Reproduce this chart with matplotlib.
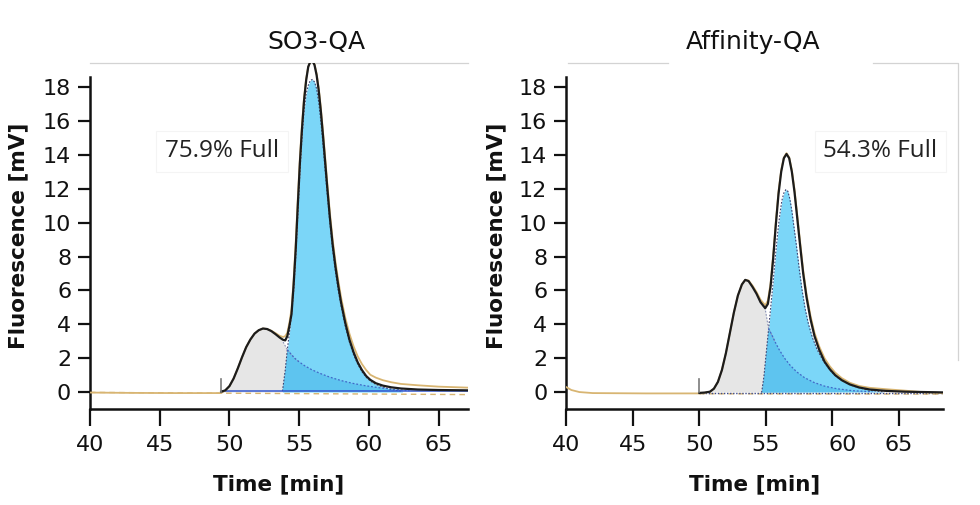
import numpy as np
import matplotlib
matplotlib.use('Agg')
import matplotlib.pyplot as plt
from matplotlib.transforms import ScaledTranslation

plt.rcParams['font.family'] = ['DejaVu Sans']

# ---- SO3-QA (left) ----
so3_black_t = [49.41, 49.7, 50.0, 50.3, 50.6, 50.9, 51.2, 51.5, 51.8, 52.1, 52.4, 52.7, 53.0, 53.3,
               53.6, 53.85, 54.0, 54.15, 54.3, 54.45, 54.6, 54.75, 54.9, 55.05, 55.2, 55.35, 55.5,
               55.65, 55.8, 55.95, 56.1, 56.25, 56.4, 56.55, 56.7, 56.85, 57.0, 57.2, 57.4, 57.6,
               57.8, 58.0, 58.3, 58.6, 58.9, 59.2, 59.5, 59.8, 60.1, 60.5, 61.0, 61.6, 62.3, 63.5,
               65.0, 67.1]
so3_black_v = [0.02, 0.1, 0.35, 0.8, 1.4, 2.05, 2.65, 3.1, 3.45, 3.65, 3.75, 3.72, 3.6, 3.42,
               3.22, 3.08, 3.05, 3.3, 3.9, 4.6, 6.3, 8.4, 11.0, 13.5, 15.5, 17.2, 18.4,
               19.2, 19.5, 19.55, 19.3, 18.7, 17.8, 16.6, 15.2, 13.7, 12.2, 10.3, 8.7, 7.4,
               6.3, 5.3, 4.1, 3.1, 2.35, 1.75, 1.3, 0.95, 0.72, 0.52, 0.38, 0.28, 0.21, 0.15,
               0.12, 0.1]
so3_gray_t = [49.41, 49.7, 50.0, 50.3, 50.6, 50.9, 51.2, 51.5, 51.8, 52.1, 52.4, 52.7, 53.0, 53.3,
              53.6, 53.85, 54.15, 54.4, 54.7, 55.0]
so3_gray_v = [0.02, 0.1, 0.35, 0.8, 1.4, 2.05, 2.65, 3.1, 3.45, 3.65, 3.75, 3.72, 3.6, 3.42,
              3.22, 2.95, 2.5, 2.25, 1.98, 1.78]
so3_blue_t = [53.8, 54.0, 54.15, 54.3, 54.45, 54.6, 54.75, 54.9, 55.05, 55.2, 55.35, 55.5, 55.65,
              55.8, 55.95, 56.1, 56.25, 56.4, 56.55, 56.7, 56.85, 57.0, 57.2, 57.4, 57.6, 57.8,
              58.0, 58.3, 58.6, 58.9, 59.2, 59.5, 59.8, 60.1, 60.5, 61.0, 61.6, 62.4]
so3_blue_v = [0.05, 1.3, 2.5, 3.5, 4.6, 5.9, 7.9, 10.4, 12.9, 15.0, 16.6, 17.6, 18.1,
              18.4, 18.45, 18.3, 17.9, 17.1, 16.0, 14.7, 13.2, 11.8, 10.0, 8.4, 7.1, 6.0,
              5.1, 3.9, 2.95, 2.2, 1.65, 1.2, 0.88, 0.65, 0.45, 0.3, 0.15, 0.05]
so3_tail_t = [54.15, 54.4, 54.7, 55.0, 55.4, 55.9, 56.5, 57.2, 58.0, 58.8, 59.7, 60.7, 61.8, 62.9]
so3_tail_v = [2.5, 2.25, 1.98, 1.78, 1.55, 1.32, 1.1, 0.88, 0.68, 0.52, 0.38, 0.26, 0.16, 0.08]
so3_raw_t = [40, 43, 46, 49.4, 49.7, 50.0, 50.3, 50.6, 50.9, 51.2, 51.5, 51.8, 52.1, 52.4, 52.7,
             53.0, 53.3, 53.6, 53.85, 54.0, 54.15, 54.3, 54.45, 54.6, 54.75, 54.9, 55.05, 55.2,
             55.35, 55.5, 55.65, 55.8, 55.95, 56.1, 56.25, 56.4, 56.55, 56.7, 56.85, 57.0, 57.2,
             57.4, 57.6, 57.8, 58.0, 58.3, 58.6, 58.9, 59.2, 59.5, 59.8, 60.1, 60.5, 61.0, 61.6,
             62.3, 63.5, 65.0, 67.1]
so3_raw_v = [-0.03, -0.05, -0.06, -0.06, 0.1, 0.35, 0.8, 1.4, 2.05, 2.65, 3.1, 3.45, 3.65, 3.75,
             3.72, 3.62, 3.48, 3.32, 3.25, 3.3, 3.5, 4.1, 4.9, 6.6, 8.8, 11.4, 13.8, 15.8,
             17.4, 18.5, 19.2, 19.5, 19.55, 19.35, 18.8, 17.95, 16.8, 15.45, 14.0, 12.5, 10.6,
             9.0, 7.7, 6.6, 5.6, 4.4, 3.45, 2.7, 2.1, 1.65, 1.3, 1.02, 0.85, 0.7, 0.58,
             0.48, 0.4, 0.32, 0.26]
so3_inject = 49.4
so3_label = '75.9% Full'

# ---- Affinity-QA (right) ----
aff_black_t = [50.01, 50.4, 50.8, 51.1, 51.4, 51.7, 52.0, 52.3, 52.6, 52.9, 53.2, 53.45, 53.7,
               54.0, 54.3, 54.6, 54.95, 55.15, 55.35, 55.55, 55.75, 55.95, 56.15, 56.35, 56.55,
               56.75, 56.95, 57.15, 57.35, 57.55, 57.8, 58.05, 58.35, 58.65, 59.0, 59.4, 59.8,
               60.2, 60.7, 61.3, 62.0, 62.8, 64.0, 65.5, 68.3]
aff_black_v = [-0.05, -0.03, 0.02, 0.2, 0.6, 1.3, 2.3, 3.5, 4.7, 5.7, 6.35, 6.62, 6.55,
               6.2, 5.8, 5.3, 4.95, 5.2, 6.2, 7.9, 9.9, 11.7, 13.0, 13.8, 14.05,
               13.8, 13.0, 11.8, 10.3, 8.8, 7.0, 5.6, 4.3, 3.3, 2.5, 1.8, 1.35,
               1.0, 0.7, 0.45, 0.27, 0.15, 0.07, 0.02, -0.02]
aff_gray_t = [50.01, 50.4, 50.8, 51.1, 51.4, 51.7, 52.0, 52.3, 52.6, 52.9, 53.2, 53.45, 53.7,
              54.0, 54.3, 54.6, 54.95, 55.2, 55.4, 55.7]
aff_gray_v = [-0.05, -0.03, 0.02, 0.2, 0.6, 1.3, 2.3, 3.5, 4.7, 5.7, 6.35, 6.62, 6.55,
              6.2, 5.8, 5.3, 4.9, 3.75, 3.45, 2.95]
aff_blue_t = [54.68, 54.85, 55.0, 55.15, 55.3, 55.45, 55.6, 55.75, 55.9, 56.05, 56.2, 56.35, 56.5,
              56.65, 56.8, 56.95, 57.1, 57.3, 57.5, 57.7, 57.95, 58.2, 58.5, 58.85, 59.3, 59.8,
              60.3, 60.9, 61.6, 62.4, 63.2, 63.9]
aff_blue_v = [-0.03, 0.9, 2.1, 3.3, 4.5, 5.7, 7.0, 8.3, 9.5, 10.5, 11.3, 11.75, 11.95,
              11.85, 11.4, 10.7, 9.8, 8.6, 7.3, 6.1, 4.9, 4.0, 3.2, 2.5, 1.85, 1.3,
              0.9, 0.6, 0.35, 0.17, 0.07, 0.0]
aff_tail_t = [55.2, 55.4, 55.7, 56.0, 56.4, 56.8, 57.3, 57.9, 58.6, 59.4, 60.3, 61.5, 63.0]
aff_tail_v = [3.75, 3.45, 2.95, 2.5, 2.0, 1.6, 1.2, 0.85, 0.57, 0.35, 0.2, 0.08, 0.02]
aff_raw_t = [40, 40.4, 41, 42, 46, 50.0, 50.4, 50.8, 51.1, 51.4, 51.7, 52.0, 52.3, 52.6, 52.9,
             53.2, 53.45, 53.7, 54.0, 54.3, 54.6, 54.95, 55.15, 55.35, 55.55, 55.75, 55.95, 56.15,
             56.35, 56.55, 56.75, 56.95, 57.15, 57.35, 57.55, 57.8, 58.05, 58.35, 58.65, 59.0,
             59.4, 59.8, 60.2, 60.7, 61.3, 62.0, 62.8, 64.0, 65.5, 67.0, 68.3]
aff_raw_v = [0.3, 0.12, 0.0, -0.06, -0.08, -0.08, -0.05, 0.02, 0.2, 0.6, 1.3, 2.3, 3.5, 4.7, 5.7,
             6.35, 6.62, 6.58, 6.28, 5.9, 5.45, 5.12, 5.4, 6.4, 8.1, 10.1, 11.85, 13.1,
             13.85, 14.1, 13.85, 13.1, 11.95, 10.5, 9.0, 7.2, 5.8, 4.5, 3.5, 2.7,
             2.0, 1.52, 1.15, 0.82, 0.55, 0.36, 0.25, 0.17, 0.08, -0.02, -0.06]
aff_inject = 50.0
aff_label = '54.3% Full'

x_ticks = [40, 45, 50, 55, 60, 65]
y_ticks = [0, 2, 4, 6, 8, 10, 12, 14, 16, 18]

GRAY = '#e6e6e6'
BLUE = '#7bd6f8'
BLUE_DK = '#5ec4ef'
TAN = '#d8b572'
FRAME = '#d3d3d3'

fig = plt.figure(figsize=(9.8, 5.05), dpi=100)
ax1 = fig.add_axes([0.0918, 0.1901, 0.3857, 0.6851])
ax2 = fig.add_axes([0.5776, 0.1901, 0.3847, 0.6851])


def draw_panel(ax, black_t, black_v, gray_t, gray_v, blue_t, blue_v, tail_t, tail_v,
               raw_t, raw_v, inject, xmax):
    ax.fill_between(gray_t, 0, gray_v, color=GRAY, lw=0, zorder=1)
    ax.fill_between(blue_t, 0, blue_v, color=BLUE, lw=0, zorder=2)
    # darker overlap region under the tailing component
    bt = np.array(blue_t)
    bv = np.array(blue_v)
    m = bt < tail_t[0]
    ax.fill(np.r_[bt[m], tail_t], np.r_[bv[m], tail_v], color=BLUE_DK, lw=0, zorder=3)
    ax.plot(blue_t, blue_v, color='#3d4270', lw=0.8, ls=(0, (1.5, 1.5)), zorder=4)
    ax.plot(gray_t[-5:], gray_v[-5:], color='#8c93b8', lw=0.8, ls=(0, (1.5, 1.5)), zorder=4)
    ax.plot(tail_t, tail_v, color='#4168c8', lw=0.9, ls=(0, (1.5, 1.5)), zorder=4)
    ax.plot(raw_t, raw_v, color=TAN, lw=1.3, zorder=5)
    ax.plot(black_t, black_v, color='#1c1c1c', lw=1.6, zorder=6)
    ax.plot([inject, inject], [0, 0.8], color='#7a7a7a', lw=1.2, zorder=6)
    ax.set_xlim(40, xmax)
    ax.set_ylim(-1.0, 19.42)
    ax.set_xticks(x_ticks)
    ax.set_yticks(y_ticks)
    for s in ['top', 'right']:
        ax.spines[s].set_visible(False)
    for s in ['left', 'bottom']:
        ax.spines[s].set_linewidth(1.8)
        ax.spines[s].set_color('#111111')
    ax.spines['left'].set_bounds(-1.0, 18.6)
    ax.tick_params(axis='x', length=12, width=1.6, pad=7, labelsize=16, colors='#111111')
    ax.tick_params(axis='y', length=8.5, width=1.6, pad=5, labelsize=16, colors='#111111')
    ax.set_xlabel('Time [min]', fontsize=15.5, fontweight='bold', color='#111111')
    ax.set_ylabel('Fluorescence [mV]', fontsize=15.5, fontweight='bold', color='#111111')


draw_panel(ax1, so3_black_t, so3_black_v, so3_gray_t, so3_gray_v, so3_blue_t, so3_blue_v,
           so3_tail_t, so3_tail_v, so3_raw_t, so3_raw_v, so3_inject, 67.1)
draw_panel(ax2, aff_black_t, aff_black_v, aff_gray_t, aff_gray_v, aff_blue_t, aff_blue_v,
           aff_tail_t, aff_tail_v, aff_raw_t, aff_raw_v, aff_inject, 68.3)

# baselines
ax1.plot([40, 67.1], [-0.02, -0.15], color=TAN, lw=1.0, ls=(0, (4, 3)), zorder=2.5)
ax1.plot([49.5, 67.1], [0.05, 0.05], color='#3558d0', lw=1.1, zorder=4)
ax2.plot([50.0, 68.3], [-0.1, -0.12], color=TAN, lw=1.0, ls=(0, (4, 3)), zorder=2.5)
ax2.plot([50.0, 68.3], [-0.05, -0.05], color='#3c4a8c', lw=1.0, ls=(0, (1, 1.2)), zorder=4)

for ax in (ax1, ax2):
    ax.xaxis.set_label_coords(0.5, -0.19)
ax1.yaxis.set_label_coords(-0.164, 0.5)
ax2.yaxis.set_label_coords(-0.159, 0.5)

box = dict(boxstyle='square,pad=0.35', fc='white', ec='#f4f4f4', lw=0.8)
ax1.text(45.38, 13.87, so3_label, fontsize=17.5, family='Open Sans', va='baseline', ha='left',
         color='#222222', bbox=box, zorder=7)
ax2.text(59.3, 13.87, aff_label, fontsize=17.5, family='Open Sans', va='baseline', ha='left',
         color='#222222', bbox=box, zorder=7)

# light frame lines left over from the pasted chromatograms
ax1.plot([0, 1], [1, 1], transform=ax1.transAxes, color=FRAME, lw=0.9, clip_on=False)
ax2.plot([0.005, 0.27], [1, 1], transform=ax2.transAxes, color=FRAME, lw=0.9, clip_on=False)
ax2.plot([0.814, 1.04, 1.04], [1, 1, 0.142], transform=ax2.transAxes, color=FRAME, lw=0.9,
         clip_on=False)

fig.text(316 / 980, 1 - 42 / 505, 'SO3-QA', fontsize=18, ha='center', va='center', color='#111111')
fig.text(753 / 980, 1 - 42 / 505, 'Affinity-QA', fontsize=18, ha='center', va='center',
         color='#111111')

# the "60" label on the right panel sits a little to the right in the source
lbl = ax2.get_xticklabels()[4]
lbl.set_transform(lbl.get_transform() + ScaledTranslation(10 / 100, 0, fig.dpi_scale_trans))

fig.savefig('out.png', dpi=100)
